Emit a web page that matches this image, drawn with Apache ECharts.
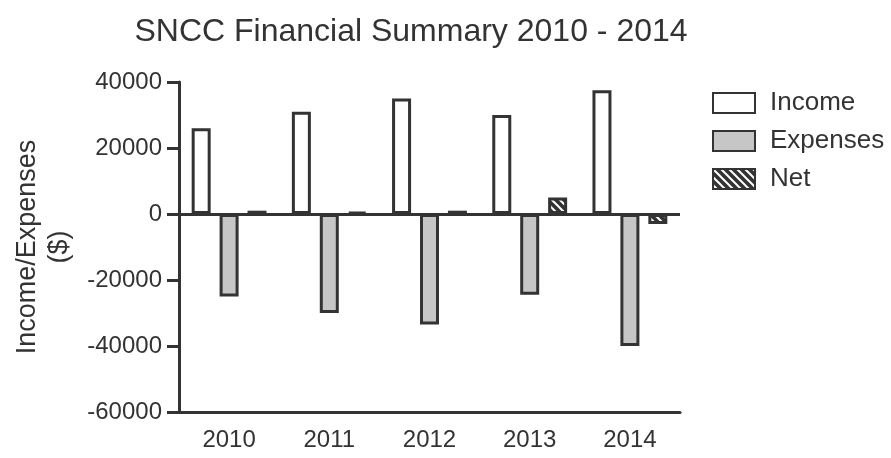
<!DOCTYPE html>
<html>
<head>
<meta charset="utf-8">
<script src="https://cdn.jsdelivr.net/npm/echarts@6/dist/echarts.min.js"></script>
<style>html,body{margin:0;padding:0;background:#fff}#c{width:891px;height:458px}</style>
</head>
<body>
<div id="c"></div>
<script>
const years = ['2010', '2011', '2012', '2013', '2014'];
const income = [26000, 31000, 35000, 30000, 37500];
const expenses = [-25000, -30000, -33500, -24500, -40000];
const net = [1000, 600, 1000, 5000, -3000];
const yTicks = { min: -60000, max: 40000, interval: 20000 };

function hatch() {
  const c = document.createElement('canvas');
  c.width = 8; c.height = 8;
  const g = c.getContext('2d');
  g.fillStyle = '#333';
  g.fillRect(0, 0, 8, 8);
  g.strokeStyle = '#fff';
  g.lineWidth = 2;
  g.beginPath();
  g.moveTo(-4, -4); g.lineTo(12, 12);
  g.moveTo(-4, 4); g.lineTo(4, 12);
  g.moveTo(4, -4); g.lineTo(12, 4);
  g.stroke();
  return c;
}

const FONT = 'Liberation Sans, Arial, sans-serif';
const DARK = '#333';
const chart = echarts.init(document.getElementById('c'), null, { renderer: 'canvas' });
chart.setOption({
  animation: false,
  backgroundColor: '#fff',
  textStyle: { fontFamily: FONT, color: DARK },
  title: {
    text: 'SNCC Financial Summary 2010 - 2014',
    left: 406, textAlign: 'center', top: 11,
    textStyle: { fontFamily: FONT, fontSize: 32, fontWeight: 'normal', color: DARK }
  },
  legend: {
    orient: 'vertical', left: 707, top: 85, icon: 'rect', itemWidth: 42, itemHeight: 20, itemGap: 12,
    textStyle: { fontFamily: FONT, fontSize: 26, lineHeight: 26, color: DARK, padding: [0, 0, 0, 10] },
    data: ['Income', 'Expenses', 'Net']
  },
  grid: { left: 179, right: 211, top: 82, bottom: 46, outerBoundsMode: 'none', containLabel: false },
  xAxis: {
    type: 'category', data: years,
    axisLine: { onZero: false, lineStyle: { color: DARK, width: 3 } },
    axisTick: { alignWithLabel: true, length: 12, lineStyle: { color: DARK, width: 3 } },
    axisLabel: { fontFamily: FONT, fontSize: 24, color: DARK, margin: 16 }
  },
  yAxis: {
    type: 'value', min: yTicks.min, max: yTicks.max, interval: yTicks.interval,
    name: 'Income/Expenses\n($)', nameLocation: 'middle', nameGap: 103, nameRotate: 90,
    nameTextStyle: { fontFamily: FONT, fontSize: 27, color: DARK, lineHeight: 32 },
    axisLine: { show: true, lineStyle: { color: DARK, width: 3 } },
    axisTick: { show: true, length: 12, lineStyle: { color: DARK, width: 3 } },
    axisLabel: { fontFamily: FONT, fontSize: 24, color: DARK, margin: 17, formatter: v => String(v) },
    splitLine: { show: false }
  },
  series: [
    {
      name: 'Income', type: 'bar', data: income, barWidth: 19, barGap: '47%',
      itemStyle: { color: '#fff', borderColor: DARK, borderWidth: 3 },
      markLine: {
        silent: true, symbol: 'none', label: { show: false },
        lineStyle: { color: DARK, width: 3, type: 'solid' },
        data: [{ yAxis: 0 }]
      }
    },
    {
      name: 'Expenses', type: 'bar', data: expenses, barWidth: 19,
      itemStyle: { color: '#c6c6c6', borderColor: DARK, borderWidth: 3 }
    },
    {
      name: 'Net', type: 'bar', data: net, barWidth: 19,
      itemStyle: { color: { image: hatch(), repeat: 'repeat' }, borderColor: DARK, borderWidth: 3 }
    }
  ]
});
</script>
</body>
</html>
